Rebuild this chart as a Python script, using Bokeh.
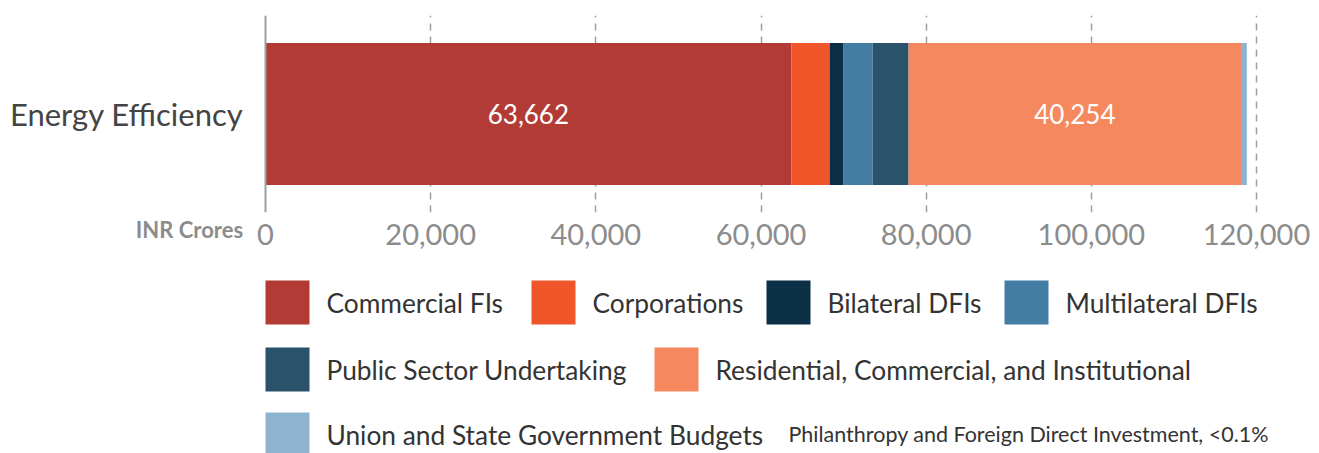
from bokeh.plotting import figure
from bokeh.layouts import column
from bokeh.models import (ColumnDataSource, FactorRange, Range1d, FixedTicker, LinearAxis,
                          NumeralTickFormatter, Span)
from bokeh.core.properties import value
from bokeh.embed import file_html
from bokeh.resources import INLINE

# ---------------- data ----------------
category = ["Energy Efficiency"]
series = ["Commercial FIs", "Corporations", "Bilateral DFIs", "Multilateral DFIs",
          "Public Sector Undertaking", "Residential, Commercial, and Institutional",
          "Union and State Government Budgets"]
values = [63662, 4640, 1700, 3510, 4360, 40254, 700]
colors = ["#B33B35", "#F0562A", "#0B2F44", "#437DA3", "#2B526B", "#F5885E", "#8DB3CE"]
x_ticks = [0, 20000, 40000, 60000, 80000, 100000, 120000]
axis_title = "INR Crores"
note = "Philanthropy and Foreign Direct Investment, <0.1%"
label_threshold = 20000

# ---------------- layout constants (px) ----------------
W, H = 1319, 453
TOP_H = 262
ZERO_PX, MAX_PX = 265, 1256          # pixel of x=0 and x=120000
FRAME_T, FRAME_B = 15, 212
TITLE_CX = 189                       # centre of the axis title
legend_pos = [(265, 280), (531, 280), (766, 280), (1004, 280),
              (265, 347), (654, 347), (265, 412)]
SW = 44                              # swatch size
LABEL_GAP = 17
note_pos = (788, 433)
FONT = "Lato"

ppu = (MAX_PX - ZERO_PX) / x_ticks[-1]     # pixels per data unit

# ---------------- chart ----------------
p = figure(width=W, height=TOP_H,
           y_range=FactorRange(factors=category, range_padding=0),
           x_range=Range1d(-ZERO_PX / ppu, (W - ZERO_PX) / ppu),
           output_backend="svg", toolbar_location=None,
           min_border_left=0, min_border_right=0,
           min_border_top=FRAME_T, min_border_bottom=TOP_H - FRAME_B)
p.outline_line_color = None
p.yaxis.visible = False
p.ygrid.grid_line_color = None

p.xgrid.ticker = FixedTicker(ticks=x_ticks[1:])
p.xgrid.grid_line_color = "#9e9e9e"
p.xgrid.grid_line_width = 1.5
p.xgrid.grid_line_dash = "7 6"
p.add_layout(Span(location=x_ticks[0], dimension="height", line_color="#a0a0a0",
                  line_width=2))

left = 0
for name, v, c in zip(series, values, colors):
    src = ColumnDataSource(dict(y=category, left=[left], right=[left + v]))
    p.hbar(y="y", left="left", right="right", height=0.72, source=src,
           fill_color=c, line_color=None)
    left += v

# value labels inside large segments
lx, ly, lt = [], [], []
left = 0
for v in values:
    if v > label_threshold:
        lx.append(left + v / 2)
        ly.append(category[0])
        lt.append(f"{v:,}")
    left += v
p.text(x="x", y="y", text="t", source=ColumnDataSource(dict(x=lx, y=ly, t=lt)),
       text_align="center", text_baseline="middle", text_color="white",
       text_font=value(FONT), text_font_size="26px")

# category label left of the bar
p.text(x=[0], y=category, text=category, x_offset=-22, text_align="right",
       text_baseline="middle", text_color="#444444", text_font=value(FONT),
       text_font_size="31px")

# x axis
xa = p.xaxis[0]
xa.ticker = FixedTicker(ticks=x_ticks)
xa.formatter = NumeralTickFormatter(format="0,0")
xa.axis_line_color = None
xa.major_tick_line_color = None
xa.minor_tick_line_color = None
xa.major_label_text_font = FONT
xa.major_label_text_font_size = "29px"
xa.major_label_text_color = "#8c8c8c"
xa.major_label_standoff = 5

# axis title on the tick-label row, left of zero
title_tick = int(round((TITLE_CX - ZERO_PX) / ppu))
ax2 = LinearAxis(ticker=FixedTicker(ticks=[title_tick]),
                 major_label_overrides={title_tick: axis_title},
                 axis_line_color=None, major_tick_line_color=None,
                 minor_tick_line_color=None,
                 major_label_text_font=FONT, major_label_text_font_size="22px",
                 major_label_text_font_style="bold",
                 major_label_text_color="#8c8c8c",
                 major_label_standoff=-38)
p.add_layout(ax2, "below")

# ---------------- legend panel ----------------
LH = H - TOP_H
q = figure(width=W, height=LH, x_range=Range1d(0, W), y_range=Range1d(H, TOP_H),
           output_backend="svg", toolbar_location=None,
           x_axis_location=None, y_axis_location=None,
           min_border_left=0, min_border_right=0, min_border_top=0, min_border_bottom=0)
q.outline_line_color = None
q.xgrid.visible = False
q.ygrid.visible = False

lg = ColumnDataSource(dict(
    left=[x for x, _ in legend_pos],
    right=[x + SW for x, _ in legend_pos],
    top=[y for _, y in legend_pos],
    bottom=[y + SW for _, y in legend_pos],
    tx=[x + SW + LABEL_GAP for x, _ in legend_pos],
    ty=[y + SW / 2 for _, y in legend_pos],
    label=series, color=colors))
q.quad(left="left", right="right", top="top", bottom="bottom", source=lg,
       fill_color="color", line_color=None)
q.text(x="tx", y="ty", text="label", source=lg, text_align="left",
       text_baseline="middle", text_font=value(FONT), text_font_size="26.3px",
       text_color="#333333")

q.text(x=[note_pos[0]], y=[note_pos[1]], text=[note], text_align="left",
       text_baseline="middle", text_font=value(FONT), text_font_size="21.5px",
       text_color="#333333")

layout = column(p, q, spacing=0)
open("out.html", "w").write(file_html(layout, INLINE))
